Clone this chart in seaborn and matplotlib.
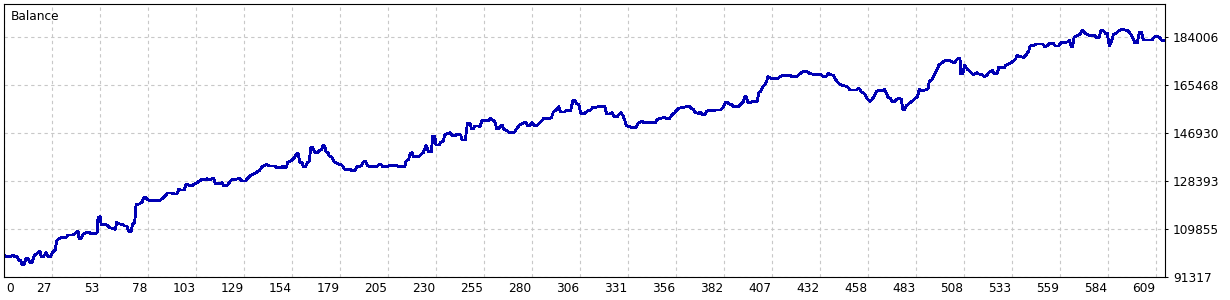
import numpy as np
import pandas as pd
import matplotlib
matplotlib.use("Agg")
import matplotlib.pyplot as plt
import matplotlib.transforms as mtransforms
import seaborn as sns

# ---- data (trade number, balance) ----
trades = [
    0, 1.4, 3.2, 4.6, 5.7, 7.0, 7.8, 8.8, 9.5, 10.6, 11.6, 12.7, 13.7, 14.8, 15.9, 16.9, 18.0, 19.0, 19.7, 20.8,
    22.2, 23.3, 24.7, 25.7, 27.1, 27.9, 28.9, 30.3, 32.8, 33.8, 36.3, 37.7, 39.1, 39.7, 40.9, 41.9, 43.7, 45.1, 45.8, 48.3,
    49.3, 49.7, 50.8, 51.4, 54.6, 55.7, 57.5, 58.8, 59.6, 61.0, 62.8, 63.8, 65.0, 65.9, 67.3, 68.0, 69.1, 69.8, 71.5, 73.0,
    74.0, 75.1, 76.1, 78.2, 81.8, 83.5, 85.3, 86.3, 88.8, 89.9, 91.3, 92.4, 93.4, 95.2, 96.2, 96.9, 98.3, 99.8, 100.8, 102.2,
    103.6, 104.3, 106.8, 107.5, 108.2, 109.6, 110.7, 111.7, 114.2, 115.3, 115.9, 118.1, 118.8, 120.2, 122.7, 123.7, 124.8, 125.8, 127.6, 128.6,
    130.1, 131.8, 133.6, 135.3, 136.4, 137.8, 138.9, 140.3, 143.1, 144.2, 146.6, 147.3, 149.1, 150.1, 151.9, 153.0, 154.4, 155.4, 156.5, 157.6,
    158.2, 159.3, 160.4, 161.4, 162.2, 163.2, 164.3, 166.0, 166.7, 167.8, 168.8, 169.6, 170.2, 171.3, 172.0, 173.4, 174.5, 175.9, 177.3, 178.7,
    180.1, 182.9, 184.0, 185.4, 186.5, 188.9, 190.0, 191.0, 192.1, 193.5, 196.7, 198.1, 199.2, 200.2, 203.0, 203.7, 207.2, 208.3, 209.7, 210.4,
    211.8, 212.5, 214.0, 214.7, 215.7, 216.4, 219.3, 220.6, 221.7, 223.1, 224.5, 225.9, 226.7, 227.7, 228.4, 230.1, 230.9, 232.3, 233.0, 234.7,
    235.8, 236.9, 238.6, 239.7, 241.5, 242.1, 243.9, 245.0, 246.4, 247.1, 248.1, 248.9, 251.0, 251.7, 252.7, 255.9, 257.3, 258.4, 259.4, 260.5,
    261.5, 263.3, 264.4, 265.8, 267.5, 269.6, 271.1, 272.4, 274.6, 275.6, 277.0, 278.1, 279.2, 280.2, 282.0, 283.4, 284.8, 285.5, 287.2, 289.4,
    290.4, 291.8, 293.3, 294.3, 296.4, 297.1, 299.6, 300.7, 301.7, 302.8, 303.8, 304.9, 307.0, 308.8, 310.2, 311.2, 312.6, 314.1, 317.6, 318.6,
    320.4, 321.4, 322.5, 324.2, 326.0, 327.1, 328.2, 328.9, 330.6, 332.0, 334.1, 335.2, 337.3, 338.4, 344.3, 345.4, 347.9, 349.3, 350.4, 351.7,
    353.2, 354.6, 356.3, 357.8, 360.2, 362.3, 363.4, 364.4, 365.5, 367.3, 368.0, 369.4, 370.5, 371.5, 372.2, 375.4, 376.4, 378.9, 380.3, 381.4,
    382.1, 383.5, 384.9, 385.6, 388.4, 389.5, 390.9, 391.6, 392.3, 393.4, 394.8, 395.8, 398.3, 399.0, 400.1, 401.1, 402.2, 403.2, 403.9, 405.0,
    408.8, 410.3, 412.0, 413.4, 415.9, 416.6, 419.1, 420.2, 421.9, 424.4, 425.8, 427.2, 428.6, 432.1, 433.2, 434.6, 435.7, 437.1, 438.4, 439.5,
    441.3, 443.1, 444.8, 446.2, 447.3, 450.8, 451.9, 453.3, 455.1, 456.4, 457.9, 458.9, 460.0, 461.4, 462.5, 464.6, 465.6, 466.3, 467.4, 468.8,
    469.5, 470.9, 472.0, 473.0, 474.4, 475.2, 476.2, 477.3, 479.0, 480.4, 481.5, 482.9, 483.9, 485.0, 487.1, 488.5, 489.2, 490.6, 492.1, 493.1,
    494.2, 495.5, 497.3, 499.1, 500.8, 502.3, 503.3, 504.7, 505.4, 505.8, 506.9, 507.9, 509.3, 510.7, 512.5, 514.3, 515.4, 517.1, 518.2, 519.5,
    520.9, 522.7, 523.4, 525.2, 525.9, 528.7, 529.4, 531.2, 532.9, 534.7, 535.7, 536.8, 539.3, 540.7, 541.8, 542.5, 544.2, 546.1, 549.2, 550.3,
    551.4, 552.7, 554.8, 555.8, 557.6, 558.7, 562.2, 563.2, 564.3, 565.0, 565.7, 567.2, 568.9, 570.3, 571.4, 573.5, 576.7, 577.7, 579.1, 579.8,
    581.2, 582.3, 583.3, 584.4, 585.4, 586.5, 588.3, 589.4, 590.7, 592.8, 594.2, 595.3, 596.7, 597.8, 599.2, 600.2, 601.3, 602.4, 606.9, 608.0,
    609.4, 611.2, 612.2, 613.6,
]
balance = [
    99810, 99160, 99160, 99810, 99160, 99160, 97880, 97610, 96070, 96070, 98540, 98540, 96840, 96840, 99430, 100080, 100860, 101360, 99160, 99160,
    100700, 99160, 99160, 100970, 101740, 105340, 106110, 106500, 106500, 107540, 107540, 108190, 109080, 106260, 106260, 107810, 108580, 108580, 108040, 108040,
    108580, 114370, 114610, 111670, 111400, 110510, 109970, 109740, 112440, 111790, 111670, 111010, 111010, 108970, 108970, 111790, 112290, 119240, 119510, 120280,
    121940, 121940, 121050, 120780, 120780, 121440, 122600, 123760, 123760, 123370, 123370, 125190, 124920, 124920, 126960, 127230, 126580, 126730, 127350, 127890,
    128390, 128890, 128890, 129280, 128780, 129050, 129550, 127500, 127500, 127740, 126730, 126730, 127500, 128780, 129050, 129280, 129280, 128390, 128390, 129280,
    130440, 130980, 131750, 132640, 133920, 134460, 134690, 134190, 134190, 133530, 133530, 134070, 133410, 135730, 136230, 136890, 138550, 139090, 135460, 135460,
    133920, 133920, 135460, 136000, 141410, 141410, 139480, 139480, 140250, 140480, 142300, 141910, 139590, 139320, 138050, 137550, 135730, 135230, 134840, 134460,
    132910, 132910, 132370, 132370, 133920, 134190, 135730, 136000, 134460, 133920, 133920, 134570, 134960, 133920, 133920, 134460, 134460, 134070, 134070, 133800,
    133800, 136000, 136770, 139090, 139320, 137780, 137780, 138820, 139320, 142300, 139710, 139710, 145770, 145770, 142300, 142300, 143450, 143720, 146270, 146810,
    147050, 145890, 145890, 146540, 146160, 144230, 144230, 150680, 150680, 148590, 148590, 149630, 149630, 149360, 151680, 151680, 152610, 151950, 151450, 148590,
    148590, 150020, 148360, 147820, 147050, 147050, 148590, 149900, 150680, 151180, 149630, 149900, 150910, 149900, 149900, 150910, 151950, 152720, 152450, 152720,
    155040, 155810, 157090, 155040, 155040, 155540, 155540, 159400, 159670, 158130, 158130, 154540, 154540, 155540, 155810, 156860, 156860, 157090, 157090, 154270,
    154270, 154770, 153230, 153230, 154770, 153770, 151950, 149900, 149360, 149130, 149130, 150680, 151450, 150910, 150910, 152220, 152720, 152990, 152450, 152450,
    154000, 154770, 156310, 156700, 156970, 157360, 156310, 156080, 154770, 154540, 155040, 154000, 154000, 155310, 155540, 155540, 155810, 155810, 156860, 158630,
    158900, 158130, 157860, 157090, 157090, 158130, 158900, 160950, 161220, 158630, 158630, 159170, 159170, 162490, 163030, 164810, 165580, 166900, 168670, 168170,
    167900, 168670, 169210, 169060, 169060, 168670, 168670, 169450, 170490, 170760, 169990, 169720, 169450, 169450, 168670, 168670, 169990, 169450, 169210, 167670,
    166120, 165350, 165080, 164580, 163540, 163540, 164310, 162760, 161990, 160180, 159170, 159950, 160950, 163030, 163540, 163270, 163810, 162490, 160720, 160180,
    158900, 159170, 159950, 160450, 159950, 156080, 156080, 157630, 158630, 159400, 160180, 160950, 163810, 163270, 163540, 164040, 166900, 167400, 169720, 171260,
    173080, 173850, 174850, 175120, 174620, 174080, 174850, 175900, 175900, 169720, 169720, 173080, 171530, 170760, 169450, 170220, 169720, 169450, 168670, 169210,
    170490, 170990, 169990, 169990, 172300, 172030, 173080, 173580, 174350, 175390, 176940, 176400, 176170, 177440, 178710, 180530, 180800, 181300, 181300, 180260,
    180530, 181570, 181570, 180530, 180530, 181800, 182070, 182850, 180260, 180260, 183890, 184390, 185160, 186710, 185430, 184660, 184660, 183620, 183890, 186440,
    186440, 185430, 185430, 180530, 182070, 184890, 185670, 186440, 186980, 186710, 186440, 185430, 183890, 181800, 181800, 185940, 185940, 182850, 182850, 183890,
    184390, 183620, 182580, 182580,
]

x_tick_labels = ["0", "27", "53", "78", "103", "129", "154", "179", "205", "230", "255", "280", "306",
                 "331", "356", "382", "407", "432", "458", "483", "508", "533", "559", "584", "609"]
y_tick_values = [91317, 109855, 128393, 146930, 165468, 184006]
title_text = "Balance"

# ---- styling ----
W, H, DPI = 1230, 300, 100
sns.set_style("white")
plt.rcParams["font.family"] = ["DejaVu Sans"]
FS = 8.7

fig = plt.figure(figsize=(W / DPI, H / DPI), dpi=DPI)
fig.patch.set_facecolor("white")
left_px, right_px, top_px, bottom_px = 4, 1165, 4, 277
ax = fig.add_axes([left_px / W, 1 - bottom_px / H, (right_px - left_px) / W, (bottom_px - top_px) / H])

x_max = 613.8
grid_step_px = 48
y_step = y_tick_values[1] - y_tick_values[0]
y_top = y_tick_values[0] + y_step * (bottom_px - top_px) / grid_step_px

df = pd.DataFrame({"trade": trades, "balance": balance})
sns.lineplot(data=df, x="trade", y="balance", ax=ax, color="#0000b4",
             linewidth=1.3, estimator=None, sort=False, legend=False,
             antialiased=False)

ax.set_xlim(0, x_max)
ax.set_ylim(y_tick_values[0], y_top)

xt = np.arange(len(x_tick_labels)) * x_max * grid_step_px / (right_px - left_px)
ax.set_xticks(xt)
ax.set_xticklabels(x_tick_labels, fontsize=FS, color="black")
ax.set_yticks(y_tick_values)
ax.set_yticklabels([str(v) for v in y_tick_values], fontsize=FS, color="black")
ax.yaxis.tick_right()
ax.yaxis.set_label_position("right")
ax.set_xlabel("")
ax.set_ylabel("")

ax.tick_params(axis="x", direction="out", length=3.0, width=0.75, pad=0.8, colors="black")
ax.tick_params(axis="y", direction="out", length=2.4, width=0.75, pad=3.2, colors="black")

for i, lab in enumerate(ax.get_xticklabels()):
    if i == 0:
        lab.set_ha("left")
        lab.set_transform(lab.get_transform() + mtransforms.ScaledTranslation(2.5 / DPI, 0, fig.dpi_scale_trans))
    else:
        lab.set_ha("right")
        lab.set_transform(lab.get_transform() + mtransforms.ScaledTranslation(-0.5 / DPI, 0, fig.dpi_scale_trans))

ax.grid(True, color="#c8c8c8", linestyle=(0, (3, 3)), linewidth=0.8)
ax.set_axisbelow(True)
for sp in ax.spines.values():
    sp.set_visible(True)
    sp.set_color("black")
    sp.set_linewidth(0.8)

ax.text(6.5 / (right_px - left_px), 1 - 6.5 / (bottom_px - top_px), title_text,
        transform=ax.transAxes, ha="left", va="top", fontsize=FS, color="black")

fig.savefig("out.png", dpi=DPI, facecolor="white")
